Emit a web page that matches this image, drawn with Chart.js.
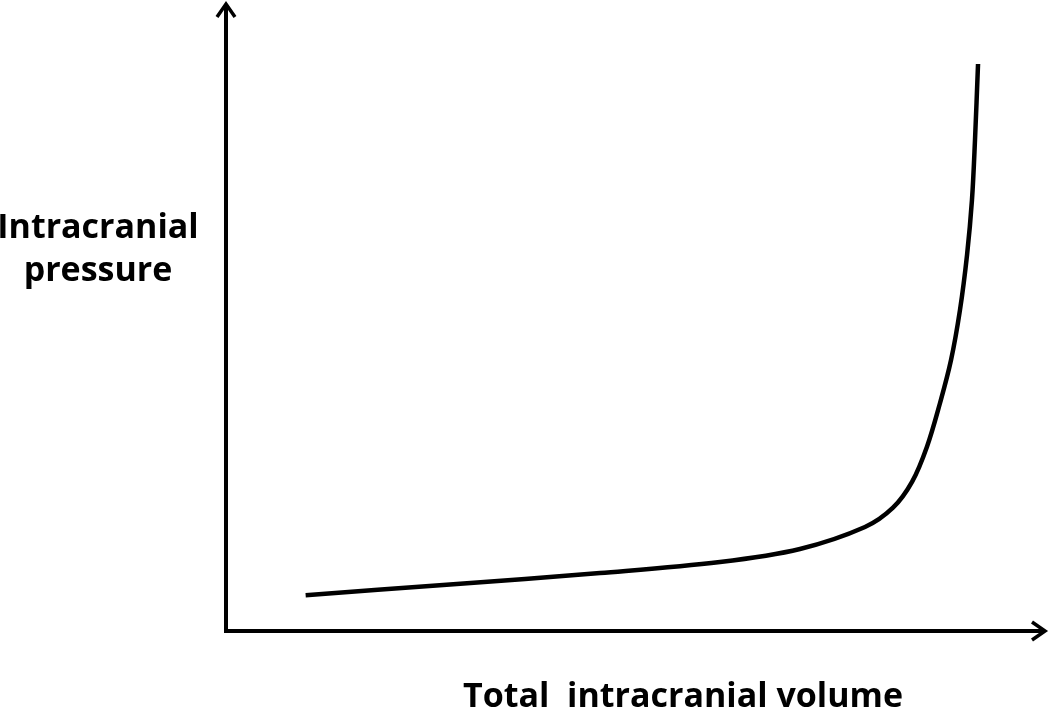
<!DOCTYPE html>
<html>
<head>
<meta charset="utf-8">
<script src="https://cdn.jsdelivr.net/npm/chart.js@4"></script>
<style>
  body { margin: 0; background: #fff; }
</style>
</head>
<body>
<canvas id="icpChart" width="1050" height="710"></canvas>
<script>
// curve, axes run 0..100 in both directions
const volume   = [9.7, 27.28, 45.55, 60.17, 69.91, 77.83, 81.24, 83.56, 85.38, 86.97, 88.31, 89.4, 90.26, 90.86, 91.23, 91.6];
const pressure = [5.7, 7.39, 9.22, 10.97, 13.04, 16.53, 19.6, 23.7, 29.3, 36.25, 43.08, 51.03, 59.78, 68.52, 78.06, 90.14];

const yTitle = ["Intracranial", "pressure"];
const xTitle = "Total  intracranial volume";

const points = volume.map((v, i) => ({ x: v, y: pressure[i] }));

// axis lines with arrow heads + the axis titles (drawn flat, not rotated)
const axesPlugin = {
    id: 'arrowAxes',
    afterDraw(chart) {
        const ctx = chart.ctx;
        const a = chart.chartArea;
        ctx.save();
        ctx.strokeStyle = '#000';
        ctx.lineWidth = 4;
        ctx.lineCap = 'butt';
        ctx.beginPath();
        ctx.moveTo(a.left, a.top + 3);
        ctx.lineTo(a.left, a.bottom);
        ctx.lineTo(a.right - 3, a.bottom);
        ctx.stroke();

        // arrow heads
        ctx.lineWidth = 3.5;
        ctx.lineJoin = 'miter';
        ctx.beginPath();
        ctx.moveTo(a.left - 9, a.top + 15);
        ctx.lineTo(a.left, a.top + 2);
        ctx.lineTo(a.left + 9, a.top + 15);
        ctx.stroke();
        ctx.beginPath();
        ctx.moveTo(a.right - 15, a.bottom - 9);
        ctx.lineTo(a.right - 2, a.bottom);
        ctx.lineTo(a.right - 15, a.bottom + 9);
        ctx.stroke();

        ctx.fillStyle = '#000';
        ctx.font = 'bold 34px "Open Sans"';
        ctx.textAlign = 'center';
        ctx.textBaseline = 'alphabetic';
        ctx.fillText(yTitle[0], 98, 238);
        ctx.fillText(yTitle[1], 98, 281);
        ctx.fillText(xTitle, 683, 707);
        ctx.restore();
    }
};

new Chart(document.getElementById('icpChart'), {
    type: 'scatter',
    data: {
        datasets: [{
            data: points,
            showLine: true,
            borderColor: '#000',
            borderWidth: 4.5,
            pointRadius: 0,
            tension: 0.35
        }]
    },
    options: {
        responsive: false,
        animation: false,
        layout: { padding: { left: 226, right: 3, top: 2, bottom: 79 } },
        plugins: { legend: { display: false }, tooltip: { enabled: false } },
        scales: {
            x: { type: 'linear', min: 0, max: 100, display: false },
            y: { type: 'linear', min: 0, max: 100, display: false }
        }
    },
    plugins: [axesPlugin]
});
</script>
</body>
</html>
